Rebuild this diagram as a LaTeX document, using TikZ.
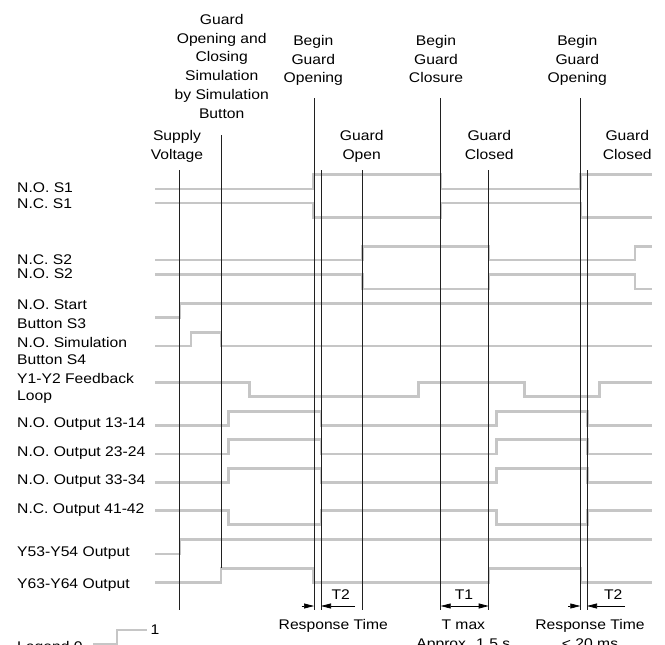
\documentclass[tikz,border=0pt]{standalone}
\usepackage{fontspec}
\setmainfont{Liberation Sans}[FakeStretch=1.12]
\usetikzlibrary{arrows.meta}
\definecolor{sigcol}{HTML}{C6C6C6}
\definecolor{vcol}{HTML}{202020}
\begin{document}
\begin{tikzpicture}[x=1pt,y=-1pt,
  sig/.style={draw=sigcol, line width=2.5pt, line join=miter},
  vline/.style={draw=vcol, line width=0.9pt},
  dim/.style={draw=black, line width=0.7pt, -{Triangle[length=10pt,width=5pt]}},
  dimboth/.style={draw=black, line width=0.7pt, {Triangle[length=10pt,width=5pt]}-{Triangle[length=10pt,width=5pt]}},
  lbl/.style={anchor=north west, inner sep=0pt, align=left, font=\fontsize{14}{16}\selectfont},
  hdr/.style={anchor=north, inner sep=0pt, align=center, font=\fontsize{14}{18.8}\selectfont}]
\useasboundingbox (0,0) rectangle (665,645);

% ---------- header texts ----------
\node[hdr] (hsim) at (221.7,14) {Guard\\Opening and\\Closing\\Simulation\\by Simulation\\Button};
\node[hdr] (hbgo1) at (313.3,35) {Begin\\Guard\\Opening};
\node[hdr] (hbgc) at (436,35) {Begin\\Guard\\Closure};
\node[hdr] (hbgo2) at (577.3,35) {Begin\\Guard\\Opening};
\node[hdr] (hsv) at (177,130) {Supply\\Voltage};
\node[hdr] (hgo) at (361.7,130) {Guard\\Open};
\node[hdr] (hgc1) at (489.3,130) {Guard\\Closed};
\node[hdr] (hgc2) at (627.3,130) {Guard\\Closed};

% ---------- left labels ----------
\node[lbl] (lnos1) at (17,182.5) {N.O. S1};
\node[lbl] (lncs1) at (17,198.5) {N.C. S1};
\node[lbl] (lncs2) at (17,254.3) {N.C. S2};
\node[lbl] (lnos2) at (17,269) {N.O. S2};
\node[lbl, font=\fontsize{14}{19}\selectfont] (ls3) at (17,299.3) {N.O. Start\\Button S3};
\node[lbl, font=\fontsize{14}{17.6}\selectfont] (ls4) at (17,336.7) {N.O. Simulation\\Button S4};
\node[lbl, font=\fontsize{14}{16.5}\selectfont] (lfb) at (17,373.3) {Y1-Y2 Feedback\\Loop};
\node[lbl] (lo13) at (17,417.5) {N.O. Output 13-14};
\node[lbl] (lo23) at (17,446.5) {N.O. Output 23-24};
\node[lbl] (lo33) at (17,475) {N.O. Output 33-34};
\node[lbl] (lo41) at (17,504) {N.C. Output 41-42};
\node[lbl] (ly53) at (17,547) {Y53-Y54 Output};
\node[lbl] (ly63) at (17,578.5) {Y63-Y64 Output};

% ---------- signals ----------
\draw[sig] (155,189) -- (313,189) -- (313,174.5) -- (441,174.5) -- (441,189) -- (580.5,189) -- (580.5,174.5) -- (652,174.5);
\draw[sig] (155,203) -- (313,203) -- (313,217.3) -- (441,217.3) -- (441,203) -- (581,203) -- (581,217.3) -- (652,217.3);
\draw[sig] (155,260) -- (362.5,260) -- (362.5,246.3) -- (489,246.3) -- (489,260) -- (635,260) -- (635,246.3) -- (652,246.3);
\draw[sig] (155,274.7) -- (362.5,274.7) -- (362.5,289) -- (489,289) -- (489,274.7) -- (635,274.7) -- (635,289) -- (652,289);
\draw[sig] (155,317.7) -- (180,317.7) -- (180,303.7) -- (652,303.7);
\draw[sig] (155,346) -- (191,346) -- (191,332.3) -- (221,332.3) -- (221,346) -- (652,346);
\draw[sig] (155,382.3) -- (249.3,382.3) -- (249.3,396.3) -- (418.7,396.3) -- (418.7,382.3) -- (524.7,382.3) -- (524.7,396.3) -- (599.3,396.3) -- (599.3,382.3) -- (652,382.3);
\draw[sig] (155,425.3) -- (228.3,425.3) -- (228.3,411.3) -- (321,411.3) -- (321,425.3) -- (496.3,425.3) -- (496.3,411.3) -- (587.3,411.3) -- (587.3,425.3) -- (652,425.3);
\draw[sig] (155,454) -- (228.3,454) -- (228.3,439.7) -- (321,439.7) -- (321,454) -- (496.3,454) -- (496.3,439.7) -- (587.3,439.7) -- (587.3,454) -- (652,454);
\draw[sig] (155,482.3) -- (228.3,482.3) -- (228.3,468.3) -- (321,468.3) -- (321,482.3) -- (496.3,482.3) -- (496.3,468.3) -- (587.3,468.3) -- (587.3,482.3) -- (652,482.3);
\draw[sig] (155,510.7) -- (228.3,510.7) -- (228.3,524.7) -- (321,524.7) -- (321,510.7) -- (496.3,510.7) -- (496.3,524.7) -- (587.3,524.7) -- (587.3,510.7) -- (652,510.7);
\draw[sig] (155,554) -- (180,554) -- (180,539.7) -- (652,539.7);
\draw[sig] (155,582.3) -- (221,582.3) -- (221,568.3) -- (313,568.3) -- (313,582.3) -- (489,582.3) -- (489,568.3) -- (581,568.3) -- (581,582.3) -- (652,582.3);

% ---------- vertical event lines ----------
\draw[vline] (179,170) -- (179,610);
\draw[vline] (221.7,135) -- (221.7,568.3);
\draw[vline] (314,98) -- (314,610);
\draw[vline] (321,170) -- (321,610);
\draw[vline] (362,170) -- (362,610);
\draw[vline] (440.7,98) -- (440.7,610);
\draw[vline] (488.7,170) -- (488.7,610);
\draw[vline] (580.3,98) -- (580.3,610);
\draw[vline] (587,170) -- (587,610);

% ---------- timing arrows ----------
\coordinate (a1s) at (301.7,606); \coordinate (a1e) at (314,606);
\coordinate (a2s) at (355,606);   \coordinate (a2e) at (321,606);
\coordinate (b1) at (440.7,606);  \coordinate (b2) at (488.7,606);
\coordinate (c1s) at (568.3,606); \coordinate (c1e) at (580.3,606);
\coordinate (c2s) at (625,606);   \coordinate (c2e) at (587,606);
\draw[dim] (a1s) -- (a1e);
\draw[dim] (a2s) -- (a2e);
\draw[dimboth] (b1) -- (b2);
\draw[dim] (c1s) -- (c1e);
\draw[dim] (c2s) -- (c2e);

\node[hdr] (t2a) at (340.7,590) {T2};
\node[hdr] (t1) at (464,590) {T1};
\node[hdr] (t2b) at (613.3,590) {T2};
\node[hdr] (rt1) at (333.3,619.5) {Response Time};
\node[hdr] (tmax) at (463.3,619.5) {T max\\Approx. 1.5 s};
\node[hdr] (rt2) at (590,619.5) {Response Time\\< 20 ms};

% ---------- legend ----------
\node[lbl] (leg) at (17,641) {Legend 0};
\draw[sig] (93,644) -- (117,644) -- (117,630) -- (146.7,630);
\node[hdr] (leg1) at (155,625) {1};
\end{tikzpicture}
\end{document}
